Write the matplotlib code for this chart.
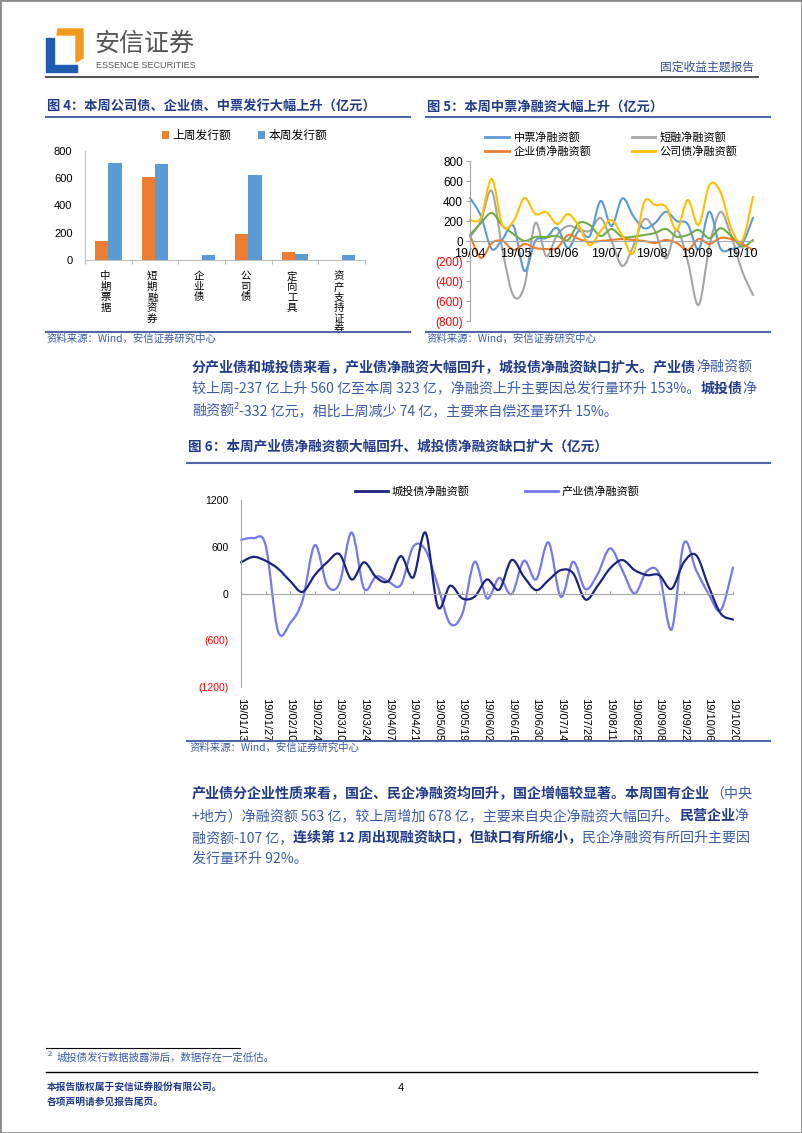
import numpy as np
import matplotlib
matplotlib.use('Agg')
import matplotlib.pyplot as plt
from matplotlib.path import Path
from matplotlib.patches import PathPatch, Polygon, Rectangle, Patch
from matplotlib.lines import Line2D

plt.rcParams['font.family'] = ['Noto Sans CJK SC', 'DejaVu Sans']
plt.rcParams['axes.unicode_minus'] = False

W, H = 802, 1133
NAVY = '#213B8A'
TXT = '#3B5CA8'
RULE = '#5068A8'
GREY = '#A6A6A6'
NUM = ['Liberation Sans', 'DejaVu Sans']

# Figure 4 data: weekly issuance (100m yuan)
bar_cats = ['中期票据', '短期融资券', '企业债', '公司债', '定向工具', '资产支持证券']
last_week = [142, 607, 2, 188, 61, 0]
this_week = [714, 704, 39, 621, 46, 39]

# Figure 5 data: weekly net financing, Apr-Oct 2019
months5 = ['19/04', '19/05', '19/06', '19/07', '19/08', '19/09', '19/10']
month_pos5 = [0, 4.2, 8.5, 12.6, 16.7, 20.8, 25.0]
mtn_net = [430, 250, -80, 20, 150, -300, 0, 30, 130, -70, 100, 50, 400, 150,
           427, 250, 127, 180, 293, 200, 170, -83, 293, -73, -80, -30, 233]
cp_net = [40, 200, 500, -100, -550, -450, 180, -150, 60, 150, 120, 100, 230, 0,
          -250, -50, 217, 100, -173, 110, -200, -640, -50, 290, 50, -300, -540]
ent_net = [57, -170, -20, 0, -90, -30, -70, -80, -70, 60, 20, -10, 0, 10,
           20, 10, 0, -20, 10, -20, -90, 20, -30, 30, 20, -30, -90]
corp_net = [210, 230, 620, 150, 200, 430, 270, 290, 170, 270, 150, -40, 100, 210,
            50, -120, 390, 360, 343, 110, 410, 160, 560, 493, 127, 0, 443]
green_net = [60, 180, 280, 150, 70, 0, 40, 40, 50, 10, 180, 160, 50, 120,
             40, 43, 60, 80, 120, 43, 60, 110, 27, 127, 50, -57, 10]

# Figure 6 data: weekly net financing 2019/01/13 - 2019/10/20
dates6 = ['19/01/13', '19/01/27', '19/02/10', '19/02/24', '19/03/10', '19/03/24',
          '19/04/07', '19/04/21', '19/05/05', '19/05/19', '19/06/02', '19/06/16',
          '19/06/30', '19/07/14', '19/07/28', '19/08/11', '19/08/25', '19/09/08',
          '19/09/22', '19/10/06', '19/10/20']
ctb_net = [400, 470, 420, 320, 160, 20, 236, 400, 506, 180, 400, 206, 163, 480,
           206, 780, -171, 99, -64, -40, 180, 50, 429, 214, 43, 171, 300, 260,
           -77, 100, 321, 429, 300, 236, 236, 60, 400, 493, 100, -257, -334]
ind_net = [690, 710, 620, -480, -380, -90, 621, 107, 130, 784, 64, 220, 150, 110,
           600, 557, 100, -386, -257, 407, -64, 201, -9, 420, 180, 656, -43, 407,
           56, 250, 579, 300, 0, 287, 250, -463, 643, 300, 0, -214, 334]

fig = plt.figure(figsize=(W / 100, H / 100), dpi=100)
renderer = fig.canvas.get_renderer()


def fx(x):
    return x / W


def fy(y):
    return 1 - y / H


def text(x, y, s, **kw):
    return fig.text(fx(x), fy(y), s, **kw)


def hline(x0, x1, y, color, lw):
    fig.add_artist(Line2D([fx(x0), fx(x1)], [fy(y), fy(y)], transform=fig.transFigure,
                          color=color, lw=lw))


def axes_at(left, top, right, bottom):
    return fig.add_axes([fx(left), fy(bottom), (right - left) / W, (bottom - top) / H])


def smooth(ax, y, color, lw=1.5):
    # excel style smoothed line drawn as bezier segments
    pts = np.column_stack([np.arange(len(y)), y]).astype(float)
    n = len(pts)
    verts, codes = [pts[0]], [Path.MOVETO]
    for i in range(n - 1):
        p0 = pts[i - 1] if i > 0 else pts[i]
        p1, p2 = pts[i], pts[i + 1]
        p3 = pts[i + 2] if i + 2 < n else pts[i + 1]
        verts += [p1 + (p2 - p0) / 6, p2 - (p3 - p1) / 6, p2]
        codes += [Path.CURVE4] * 3
    ax.add_patch(PathPatch(Path(verts, codes), fill=False, edgecolor=color, lw=lw,
                           clip_on=False, capstyle='round', joinstyle='round'))


def runs(x, y, parts, size=10.1):
    cur = x
    for s, style in parts:
        if style == 'sup':
            t = text(cur, y + 5 - 6, s, fontsize=6.5, color=TXT, va='baseline')
        else:
            bold = style == 'b'
            t = text(cur, y + 5, s, fontsize=size, va='baseline',
                     color=NAVY if bold else TXT, fontweight='bold' if bold else 'normal')
        cur += t.get_window_extent(renderer).width


# page frame and header
fig.add_artist(Rectangle((0, 0), 1, 1, transform=fig.transFigure, fill=False,
                         edgecolor='#8C8C8C', lw=2))
blue_logo = [(46, 38), (54, 38), (54, 65), (77, 65), (77, 72), (46, 72)]
orange_logo = [(58, 29), (83, 29), (83, 58), (76, 62), (76, 35), (57, 35)]
fig.add_artist(Polygon([(fx(a), fy(b)) for a, b in blue_logo], closed=True,
                       transform=fig.transFigure, color='#1F5BAE'))
fig.add_artist(Polygon([(fx(a), fy(b)) for a, b in orange_logo], closed=True,
                       transform=fig.transFigure, color='#F39A1E'))
text(94, 44, '安信证券', fontsize=18, color='#555555', va='center')
text(96, 66, 'ESSENCE SECURITIES', fontsize=6.5, color='#555555', va='center',
     family=NUM)
text(754, 67, '固定收益主题报告', fontsize=8.5, color='#2E4D9A', va='center', ha='right')
hline(46, 758, 77, '#555555', 1.5)

# captions
text(47, 107, '图 4：本周公司债、企业债、中票发行大幅上升（亿元）', fontsize=9.5,
     fontweight='bold', color=NAVY, va='center')
hline(46, 410, 117, RULE, 1.5)
text(427, 107, '图 5：本周中票净融资大幅上升（亿元）', fontsize=9.5,
     fontweight='bold', color=NAVY, va='center')
hline(426, 770, 117, RULE, 1.5)
for x0, x1 in [(46, 410), (426, 770)]:
    hline(x0, x1, 332, RULE, 1.5)
text(47, 339, '资料来源：Wind，安信证券研究中心', fontsize=7.5, color=TXT,
     va='center', style='italic')
text(427, 339, '资料来源：Wind，安信证券研究中心', fontsize=7.5, color=TXT,
     va='center', style='italic')

# Figure 4: bars
ax4 = axes_at(85, 151, 365, 260)
x = np.arange(len(bar_cats))
bw = 0.285
ax4.bar(x - bw / 2, last_week, bw, color='#ED7D31', label='上周发行额')
ax4.bar(x + bw / 2, this_week, bw, color='#5B9BD5', label='本周发行额')
ax4.set_xlim(-0.5, len(bar_cats) - 0.5)
ax4.set_ylim(0, 800)
ax4.set_yticks([0, 200, 400, 600, 800])
ax4.set_yticklabels(['0', '200', '400', '600', '800'], family=NUM, fontsize=8)
ax4.set_xticks(x - 0.06)
ax4.set_xticklabels(['\n'.join(c) for c in bar_cats], fontsize=7.5, va='top',
                    linespacing=1.08)
ax4.set_xticks(np.arange(-0.5, len(bar_cats)), minor=True)
ax4.tick_params(axis='x', which='major', length=0, pad=8)
ax4.tick_params(axis='x', which='minor', length=3, color=GREY)
ax4.tick_params(axis='y', length=0, pad=9)
for s in ['top', 'right']:
    ax4.spines[s].set_visible(False)
for s in ['left', 'bottom']:
    ax4.spines[s].set_color('#BFBFBF')
ax4.legend(loc='center', bbox_to_anchor=(0.57, 1.14), ncol=2, frameon=False,
           fontsize=8.5, handlelength=0.6, handleheight=0.6, handletextpad=0.3,
           columnspacing=2.2, borderpad=0)

# Figure 5: net financing by type
ax5 = axes_at(470, 161, 753, 321)
ax5.spines['bottom'].set_position(('data', 0))
c5 = {'mtn': '#5B9BD5', 'cp': '#A5A5A5', 'ent': '#ED7D31', 'corp': '#FFC000', 'g': '#70AD47'}
smooth(ax5, cp_net, c5['cp'])
smooth(ax5, mtn_net, c5['mtn'])
smooth(ax5, green_net, c5['g'])
smooth(ax5, ent_net, c5['ent'])
smooth(ax5, corp_net, c5['corp'])
ax5.set_xlim(0, len(mtn_net) - 1)
ax5.set_ylim(-800, 800)
yt5 = [800, 600, 400, 200, 0, -200, -400, -600, -800]
ax5.set_yticks(yt5)
ax5.set_yticklabels([f'({-v})' if v < 0 else str(v) for v in yt5], family=NUM, fontsize=8.5)
for lab, v in zip(ax5.get_yticklabels(), yt5):
    lab.set_color('#FF0000' if v < 0 else 'black')
ax5.set_xticks(month_pos5)
ax5.set_xticklabels(months5, family=NUM, fontsize=9)
ax5.tick_params(axis='x', length=0, pad=5)
ax5.tick_params(axis='y', length=3, color=GREY, pad=2)
for s in ['top', 'right']:
    ax5.spines[s].set_visible(False)
for s in ['left', 'bottom']:
    ax5.spines[s].set_color(GREY)
h5 = [Line2D([], [], color=c5['mtn'], lw=2), Line2D([], [], color=c5['ent'], lw=2),
      Line2D([], [], color=c5['cp'], lw=2), Line2D([], [], color=c5['corp'], lw=2)]
ax5.legend(h5, ['中票净融资额', '企业债净融资额', '短融净融资额', '公司债净融资额'],
           loc='center', bbox_to_anchor=(0.5, 1.106), ncol=2, frameon=False, fontsize=8,
           handlelength=2.1, handletextpad=0.45, columnspacing=3.6, labelspacing=0.3,
           borderpad=0)

# paragraph 1
runs(192, 366, [('分产业债和城投债来看，产业债净融资大幅回升，城投债净融资缺口扩大。产业债', 'b'),
                ('净融资额', 'n')])
runs(192, 388, [('较上周-237 亿上升 560 亿至本周 323 亿，净融资上升主要因总发行量环升 153%。', 'n'),
                ('城投债', 'b'), ('净', 'n')])
runs(192, 410, [('融资额', 'n'), ('2', 'sup'),
                ('-332 亿元，相比上周减少 74 亿，主要来自偿还量环升 15%。', 'n')])

# Figure 6
text(188, 447, '图 6：本周产业债净融资额大幅回升、城投债净融资缺口扩大（亿元）', fontsize=9.8,
     fontweight='bold', color=NAVY, va='center')
hline(187, 770, 463, RULE, 1.5)
hline(187, 770, 741, RULE, 1.5)
text(190, 748, '资料来源：Wind，安信证券研究中心', fontsize=7.5, color=TXT,
     va='center', style='italic')

ax6 = axes_at(241, 500, 733, 687)
ax6.spines['bottom'].set_position(('data', 0))
smooth(ax6, ind_net, '#7777EE', lw=1.6)
smooth(ax6, ctb_net, '#1B237E', lw=1.6)
ax6.set_xlim(0, len(ctb_net) - 1)
ax6.set_ylim(-1200, 1200)
yt6 = [1200, 600, 0, -600, -1200]
ax6.set_yticks(yt6)
ax6.set_yticklabels([f'({-v})' if v < 0 else str(v) for v in yt6], family=NUM, fontsize=7.5)
for lab, v in zip(ax6.get_yticklabels(), yt6):
    lab.set_color('#FF0000' if v < 0 else 'black')
ax6.tick_params(axis='y', length=0, pad=9)
tick6 = np.arange(0, len(ctb_net), 2)
ax6.set_xticks(tick6)
ax6.tick_params(axis='x', direction='in', length=2.5, color=GREY, labelbottom=False)
sec = ax6.secondary_xaxis('bottom')
sec.set_xticks(tick6)
sec.set_xticklabels(dates6, rotation=-90, family=NUM, fontsize=8)
sec.tick_params(length=0, pad=8)
sec.spines['bottom'].set_visible(False)
for s in ['top', 'right']:
    ax6.spines[s].set_visible(False)
for s in ['left', 'bottom']:
    ax6.spines[s].set_color(GREY)
h6 = [Line2D([], [], color='#1B237E', lw=2), Line2D([], [], color='#7777EE', lw=2)]
ax6.legend(h6, ['城投债净融资额', '产业债净融资额'], loc='center', bbox_to_anchor=(0.52, 1.048),
           ncol=2, frameon=False, fontsize=8, handlelength=3, handletextpad=0.3,
           columnspacing=5, borderpad=0)

# paragraph 2
runs(192, 793, [('产业债分企业性质来看，国企、民企净融资均回升，国企增幅较显著。本周国有企业', 'b'),
                ('（中央', 'n')])
runs(192, 815, [('+地方）净融资额 563 亿，较上周增加 678 亿，主要来自央企净融资大幅回升。', 'n'),
                ('民营企业', 'b'), ('净', 'n')])
runs(192, 837, [('融资额-107 亿，', 'n'), ('连续第 12 周出现融资缺口，但缺口有所缩小，', 'b'),
                ('民企净融资有所回升主要因', 'n')])
runs(192, 858, [('发行量环升 92%。', 'n')])

# footnote and footer
hline(46, 240, 1048, 'black', 0.8)
text(48, 1054, '2', fontsize=5.5, color=TXT, va='center')
text(57, 1058, '城投债发行数据披露滞后，数据存在一定低估。', fontsize=7.5, color=TXT, va='center')
hline(46, 757, 1072, 'black', 1)
text(47, 1087, '本报告版权属于安信证券股份有限公司。', fontsize=7, fontweight='bold',
     color=NAVY, va='center')
text(47, 1102, '各项声明请参见报告尾页。', fontsize=7, fontweight='bold', color=NAVY, va='center')
text(398, 1088, '4', fontsize=8, color='black', va='center', family=NUM)

fig.savefig('out.png', dpi=100)
